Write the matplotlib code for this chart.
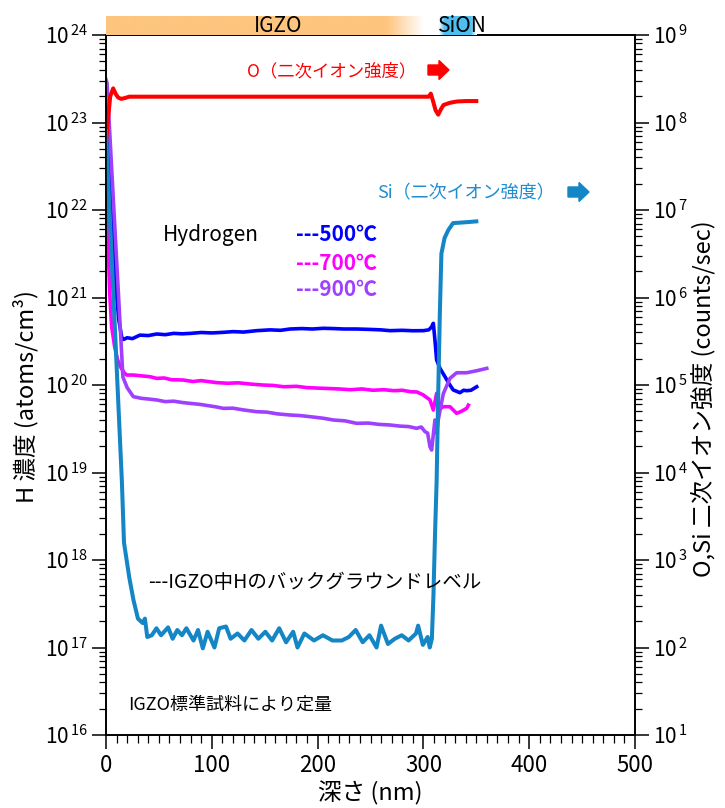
import matplotlib
matplotlib.use("Agg")
import matplotlib.pyplot as plt
import matplotlib.patches as mpatches
from matplotlib.ticker import FixedLocator, FixedFormatter, MultipleLocator, LogLocator, NullFormatter
import numpy as np

plt.rcParams['font.family'] = ['Noto Sans CJK JP', 'DejaVu Sans']
plt.rcParams['mathtext.fontset'] = 'custom'
plt.rcParams['mathtext.rm'] = 'Liberation Sans'

# ---- data (log10 values) ----
# H concentration (atoms/cm3), left axis
h500_depth = [0, 3, 8, 12, 14.8, 16.4, 20, 25, 32, 40, 48, 56, 64, 72, 80, 90, 100, 111, 120, 130,
              142.4, 155, 165, 174, 185, 195, 205.4, 215, 225, 237, 250, 260, 268.4, 280, 290, 300,
              305, 307.5, 309.4, 311, 312.5, 315.7, 320.4, 324, 328.2, 331, 334.5, 338, 340.9, 345, 350.4]
h500_log = [23.2, 22.5, 21.3, 20.75, 20.55, 20.52, 20.54, 20.53, 20.57, 20.565, 20.583, 20.575, 20.59,
            20.585, 20.59, 20.6, 20.595, 20.602, 20.61, 20.605, 20.621, 20.63, 20.625, 20.64, 20.645,
            20.64, 20.648, 20.645, 20.64, 20.64, 20.635, 20.63, 20.621, 20.625, 20.62, 20.621,
            20.63, 20.66, 20.705, 20.5, 20.286, 20.19, 20.095, 20.02, 19.943, 19.93, 19.912, 19.94,
            19.935, 19.94, 19.98]

h700_depth = [0, 1, 2, 3.5, 5.3, 8, 10.9, 14, 17.2, 19.5, 25.8, 33, 41.6, 47.9, 55, 62, 73, 82, 90,
              104.7, 115, 125, 136.3, 148, 158, 168, 180, 190, 199.6, 210, 220, 231, 242, 252, 262.9,
              272, 280, 288, 294, 299.9, 306.2, 309.4, 312.5, 314, 318.8, 325.1, 331.4, 336, 340.9, 342.5]
h700_log = [22.3, 22.0, 21.6, 21.05, 20.67, 20.45, 20.29, 20.2, 20.14, 20.114, 20.114, 20.105, 20.095,
            20.076, 20.08, 20.06, 20.057, 20.04, 20.05, 20.027, 20.02, 20.025, 20.011, 20.0, 19.995,
            19.98, 19.985, 19.97, 19.965, 19.96, 19.955, 19.946, 19.955, 19.94, 19.946, 19.935, 19.94,
            19.923, 19.92, 19.886, 19.829, 19.714, 19.905, 19.714, 19.752, 19.752, 19.676, 19.70,
            19.733, 19.77]

h900_depth = [0, 1, 16, 20, 25.8, 33.3, 40, 47.9, 56, 64, 72, 79.4, 88, 96, 104, 110.9, 120, 130,
              142.4, 152, 162, 173.9, 184, 195, 205.4, 215, 226, 236.9, 248, 258, 268.4, 278, 286,
              293.6, 298, 301.5, 304, 306.2, 307.8, 310.9, 312.5, 314, 318.8, 325.1, 331.4, 340.9,
              350.4, 359.9]
h900_log = [23.49, 23.45, 20.09, 19.97, 19.867, 19.848, 19.84, 19.829, 19.81, 19.815, 19.8, 19.79,
            19.78, 19.765, 19.75, 19.733, 19.735, 19.715, 19.695, 19.69, 19.67, 19.657, 19.65, 19.635,
            19.62, 19.6, 19.59, 19.562, 19.565, 19.55, 19.543, 19.53, 19.525, 19.505, 19.52, 19.467,
            19.45, 19.295, 19.257, 19.6, 19.45, 19.6, 19.9, 20.076, 20.14, 20.14, 20.163, 20.19]

# secondary ion intensity (counts/sec), right axis
o_depth = [0, 2, 4, 6.8, 9, 11.5, 14.4, 18, 22, 60, 150, 250, 305, 307, 309, 311.5, 314, 316.5,
           319, 325, 331.5, 340, 350]
o_log = [7.75, 8.05, 8.30, 8.39, 8.33, 8.285, 8.27, 8.28, 8.295, 8.295, 8.295, 8.295, 8.295, 8.33,
         8.25, 8.14, 8.09, 8.15, 8.20, 8.225, 8.24, 8.245, 8.245]

si_depth = [0, 2, 15, 17, 22, 26, 30.2, 34.6, 36.8, 39, 43.3, 47.7, 52, 58.7, 63, 67.4, 71.8, 76,
            82.7, 87, 91.5, 96, 102.5, 107, 113.4, 117.8, 124.3, 130.8, 137.5, 144, 150.6, 157,
            163.7, 170.2, 176.9, 181, 187.5, 196.6, 205, 214, 222.9, 229.5, 236, 242.6, 249, 255.7,
            260, 266.5, 273, 279.5, 286, 293, 295, 299.5, 304, 306, 308, 309.5, 311, 312.5, 314,
            315.5, 317, 320, 323.5, 328, 340, 350]
si_log = [7.9, 7.35, 3.9, 3.2, 2.8, 2.54, 2.33, 2.28, 2.33, 2.12, 2.14, 2.22, 2.14, 2.23, 2.1, 2.2,
          2.14, 2.22, 2.08, 2.2, 1.99, 2.18, 2.0, 2.22, 2.24, 2.1, 2.16, 2.08, 2.2, 2.1, 2.18, 2.08,
          2.22, 2.06, 2.18, 2.0, 2.16, 2.08, 2.14, 2.08, 2.08, 2.12, 2.2, 2.06, 2.14, 2.0, 2.25,
          2.04, 2.1, 2.14, 2.08, 2.16, 2.25, 2.03, 2.12, 2.0, 2.1, 2.6, 3.3, 3.9, 4.9, 5.8, 6.5,
          6.68, 6.77, 6.85, 6.86, 6.87]

left_exp = [16, 17, 18, 19, 20, 21, 22, 23, 24]
right_exp = [1, 2, 3, 4, 5, 6, 7, 8, 9]
x_ticks = [0, 100, 200, 300, 400, 500]

# ---- figure ----
W, H = 725, 808
fig = plt.figure(figsize=(W / 100, H / 100), dpi=100)
ax = fig.add_axes([106 / W, 73 / H, 529 / W, 700 / H])
ax2 = ax.twinx()

lw = 2.6
ax.plot(h500_depth, 10 ** np.array(h500_log), color='#0000FF', lw=lw)
ax.plot(h700_depth, 10 ** np.array(h700_log), color='#FF00FF', lw=lw)
ax.plot(h900_depth, 10 ** np.array(h900_log), color='#A040FF', lw=lw)
ax2.plot(o_depth, 10 ** np.array(o_log), color='#FF0000', lw=lw + 0.3)
ax2.plot(si_depth, 10 ** np.array(si_log), color='#1486C6', lw=lw + 0.3)

ax.set_xlim(0, 500)
ax.set_yscale('log')
ax.set_ylim(10.0 ** left_exp[0], 10.0 ** left_exp[-1])
ax2.set_yscale('log')
ax2.set_ylim(10.0 ** right_exp[0], 10.0 ** right_exp[-1])

ax.yaxis.set_major_locator(FixedLocator([10.0 ** e for e in left_exp]))
ax.yaxis.set_major_formatter(FixedFormatter([r'$\mathregular{10^{\,%d}}$' % e for e in left_exp]))
ax.yaxis.set_minor_locator(LogLocator(base=10, subs=np.arange(2, 10)))
ax.yaxis.set_minor_formatter(NullFormatter())
ax2.yaxis.set_major_locator(FixedLocator([10.0 ** e for e in right_exp]))
ax2.yaxis.set_major_formatter(FixedFormatter([r'$\mathregular{10^{\,%d}}$' % e for e in right_exp]))
ax2.yaxis.set_minor_locator(LogLocator(base=10, subs=np.arange(2, 10)))
ax2.yaxis.set_minor_formatter(NullFormatter())

ax.set_xticks(x_ticks)
ax.xaxis.set_minor_locator(MultipleLocator(10))

for a in (ax, ax2):
    for s in a.spines.values():
        s.set_linewidth(1.2)
    a.tick_params(which='major', length=10, width=1.1, direction='out', labelsize=15)
    a.tick_params(which='minor', length=5, width=0.9, direction='out')
ax.tick_params(axis='y', pad=3)
ax2.tick_params(axis='y', pad=3)
ax.tick_params(axis='x', which='minor', length=6)
for lab in ax.get_xticklabels():
    lab.set_fontsize(16)

ax.set_xlabel('深さ (nm)', fontsize=17, va='center')
ax.xaxis.set_label_coords(0.5, -58 / 700)
ax.set_ylabel('H 濃度 (atoms/cm³)', fontsize=17, va='center')
ax.yaxis.set_label_coords(-80 / 529, 0.484)
ax2.set_ylabel('O,Si 二次イオン強度 (counts/sec)', fontsize=17, va='center', rotation=90)
ax2.yaxis.set_label_coords(1 + 68 / 529, 0.48)


def fx(px):
    return px / W


def fy(py):
    return 1 - py / H


# annotations
fig.text(fx(247), fy(71), 'O（二次イオン強度）', color='#FF0000', fontsize=12.5, va='center')
fig.text(fx(377), fy(193), 'Si（二次イオン強度）', color='#1F8DD0', fontsize=13, va='center')
for x0, y0, c in [(428, 70, '#FF0000'), (568, 192, '#1486C6')]:
    fig.add_artist(mpatches.FancyArrow(fx(x0), fy(y0), fx(11), 0, width=10 / H,
                                       head_width=19 / H, head_length=fx(10),
                                       length_includes_head=False, color=c,
                                       transform=fig.transFigure))

fig.text(fx(163), fy(235), 'Hydrogen', fontsize=15, va='center')
fig.text(fx(296), fy(235), '---500℃', color='#0000FF', fontsize=15, fontweight='bold', va='center')
fig.text(fx(296), fy(263), '---700℃', color='#FF00FF', fontsize=15, fontweight='bold', va='center')
fig.text(fx(296), fy(290), '---900℃', color='#A040FF', fontsize=15, fontweight='bold', va='center')
fig.text(fx(148), fy(582), '---IGZO中Hのバックグラウンドレベル', fontsize=14, va='center')
fig.text(fx(128), fy(705), 'IGZO標準試料により定量', fontsize=13, va='center')

# layer bar above the plot
igzo_solid, igzo_end = 265, 300
sion_start, sion_end = 317, 347
bar_end = 350
axbar = fig.add_axes([106 / W, 1 - 35 / H, bar_end * 529 / 500 / W, 19 / H])
xs = np.linspace(0, bar_end, 700)
orange = np.array([253, 197, 127]) / 255
blue = np.array([80, 190, 238]) / 255
white = np.ones(3)
fade = np.clip((xs - igzo_solid) / (igzo_end - igzo_solid), 0, 1)[:, None]
row = orange * (1 - fade) + white * fade
bw = np.clip(np.minimum(xs - sion_start, sion_end - xs) / 5 + 0.5, 0, 1)[:, None]
row = row * (1 - bw) + blue * bw
axbar.imshow(row[None, :, :], aspect='auto', extent=[0, bar_end, 0, 1])
axbar.set_xlim(0, bar_end)
axbar.set_ylim(0, 1)
axbar.axis('off')
axbar.text(163, 0.45, 'IGZO', fontsize=15, ha='center', va='center')
axbar.text(337, 0.45, 'SiON', fontsize=15, ha='center', va='center')

fig.savefig('out.png', dpi=100)
